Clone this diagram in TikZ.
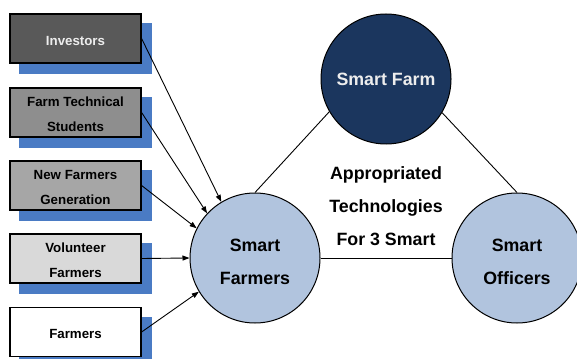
\documentclass[tikz,border=0pt]{standalone}
\usepackage{fontspec}
\setmainfont{Liberation Sans}
\usetikzlibrary{arrows.meta,backgrounds}
\definecolor{shadowblue}{HTML}{4A7BC4}
\definecolor{navy}{HTML}{1B365E}
\definecolor{lightblue}{HTML}{B1C4DE}
\definecolor{invgray}{HTML}{595959}
\definecolor{ftgray}{HTML}{8E8E8E}
\definecolor{nfgray}{HTML}{A6A6A6}
\definecolor{volgray}{HTML}{D9D9D9}
\definecolor{invtext}{HTML}{EDEDED}
\tikzset{
  box/.style={draw=black, line width=1.2pt, minimum width=131pt, minimum height=49pt,
    inner sep=0pt},
  boxtext/.style={align=center, yshift=-2pt, font=\bfseries\fontsize{13.3}{25}\selectfont},
  circ/.style={circle, draw=black, line width=1pt, minimum size=130pt, inner sep=0pt},
  circtext/.style={align=center, yshift=-3.5pt, font=\bfseries\fontsize{17.8}{33}\selectfont},
  arr/.style={line width=0.9pt, -{Triangle[length=7pt,width=5pt]}},
  link/.style={line width=0.9pt},
  shad/.style={fill=shadowblue}
}
\begin{document}
\begin{tikzpicture}[x=1pt,y=-1pt]
\useasboundingbox (0,0) rectangle (577,358);
% boxes
\node[box, fill=invgray, label={[boxtext, text=invtext]center:Investors}] (inv) at (75.5,38.5) {};
\node[box, fill=ftgray, label={[boxtext]center:Farm Technical\\Students}] (ft) at (75.5,112.5) {};
\node[box, fill=nfgray, label={[boxtext]center:New Farmers\\Generation}] (nf) at (75.5,185.5) {};
\node[box, fill=volgray, label={[boxtext]center:Volunteer\\Farmers}] (vol) at (75.5,258.5) {};
\node[box, fill=white, label={[boxtext]center:Farmers}] (fa) at (75.5,332) {};
\begin{scope}[on background layer]
  \foreach \n in {inv,ft,nf,vol,fa}
    \fill[shad] ([shift={(10,10)}]\n.south west) rectangle ([shift={(10,10)}]\n.north east);
\end{scope}
% circles
\node[circ, fill=navy, label={[circtext, text=invtext, yshift=3pt]center:Smart Farm}] (sf) at (386,79) {};
\node[circ, fill=lightblue, label={[circtext]center:Smart\\Farmers}] (sfr) at (255,258) {};
\node[circ, fill=lightblue, label={[circtext]center:Smart\\Officers}] (so) at (517,258) {};
\node[align=center, font=\bfseries\fontsize{17.8}{33}\selectfont] (mid) at (386,206)
  {Appropriated\\Technologies\\For 3 Smart};
% links
\draw[link] (sfr.north) -- (sf.210.8);
\draw[link] (sf.329.2) -- (so.north);
\draw[link] (sfr.east) -- (so.west);
% arrows
\draw[arr] (inv.east) -- (sfr.121.5);
\draw[arr] (ft.east) -- (sfr.137.4);
\draw[arr] (nf.east) -- (sfr.153);
\draw[arr] (vol.east) -- (sfr.180);
\draw[arr] (fa.east) -- (sfr.211);
\end{tikzpicture}
\end{document}
